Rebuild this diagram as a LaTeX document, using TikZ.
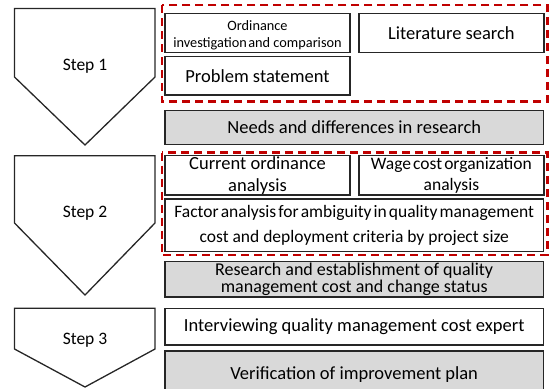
\documentclass[tikz,border=0pt]{standalone}
\usepackage{fontspec}
\setmainfont{Carlito}
\usepackage{xcolor}
\usepackage{tikz}

\definecolor{dashred}{RGB}{192,0,0}
\definecolor{resgray}{RGB}{217,217,217}

% narrower word gaps for the long lines
\newcommand{\tightsp}{\spaceskip=0.12em plus 0.05em\relax}

\tikzset{
  box/.style={draw=black!85, line width=1.3bp, align=center, inner sep=0pt,
    font=\fontsize{18.5bp}{21bp}\selectfont},
  halfbox/.style={box, minimum width=185bp},
  fullbox/.style={box, minimum width=378.5bp},
  resultbox/.style={fullbox, fill=resgray},
  redgroup/.style={draw=dashred, line width=2.3bp, dash pattern=on 8bp off 5bp},
  stepshape/.style={draw=black!85, line width=1.3bp, line join=miter},
  steplabel/.style={font=\fontsize{17.5bp}{20bp}\selectfont}
}

\begin{document}
\begin{tikzpicture}[x=1bp,y=-1bp]
		\useasboundingbox (0,0) rectangle (549,388);
		\clip (0,0) rectangle (549,388);

		% step arrows on the left
		\draw[stepshape] (14.5,8.5) -- (155,8.5) -- (155,77) -- (85,145) -- (14.5,77) -- cycle;
		\node[steplabel] (s1) at (85,66.5) {Step 1};
		\draw[stepshape] (14.5,155.7) -- (155,155.7) -- (155,223) -- (85,295) -- (14.5,223) -- cycle;
		\node[steplabel] (s2) at (85,213.5) {Step 2};
		\draw[stepshape] (14.5,308.3) -- (155,308.3) -- (155,349) -- (85,387) -- (14.5,349) -- cycle;
		\node[steplabel] (s3) at (85,340) {Step 3};

		% step 1
		\draw[redgroup] (161.7,5) rectangle (547.5,101.5);
		\node[halfbox, minimum height=39bp, font=\fontsize{14.3bp}{17.5bp}\selectfont] (ord) at (257.5,32.8) {\rule{0pt}{15bp}Ordinance\\investigation\hspace{1.5bp}and comparison};
		\node[halfbox, minimum height=39bp] (lit) at (451.4,32.8) {Literature search};
		\node[halfbox, minimum height=38.3bp] (prob) at (257.5,75.8) {Problem statement};
		\node[resultbox, minimum height=33.6bp] (needs) at (354.2,127.5) {Needs and differences in research};

		% step 2
		\draw[redgroup] (161.7,152.6) rectangle (547.5,255);
		\node[halfbox, minimum height=39.5bp, font=\fontsize{18.5bp}{21.7bp}\selectfont] (cur) at (257.5,175.3) {Current ordinance\\analysis};
		\node[halfbox, minimum height=39.5bp, font=\fontsize{17.5bp}{21.7bp}\selectfont] (wage) at (451.4,175.3) {\tightsp Wage cost organization\\analysis};
		\node[fullbox, minimum height=52.7bp, font=\fontsize{17.5bp}{25bp}\selectfont] (factor) at (354.2,225.3) {\tightsp Factor analysis for ambiguity in quality management\\cost and deployment criteria by project size};
		\node[resultbox, minimum height=35.3bp, font=\fontsize{18bp}{17.5bp}\selectfont] (research) at (354.2,279.3) {Research and establishment of quality\\management cost and change status};

		% step 3
		\node[fullbox, minimum height=36.5bp] (inter) at (354.2,326.7) {Interviewing quality management cost expert};
		\node[resultbox, minimum height=48bp] (verif) at (354.2,375) {Verification of improvement plan};
	\end{tikzpicture}
\end{document}
